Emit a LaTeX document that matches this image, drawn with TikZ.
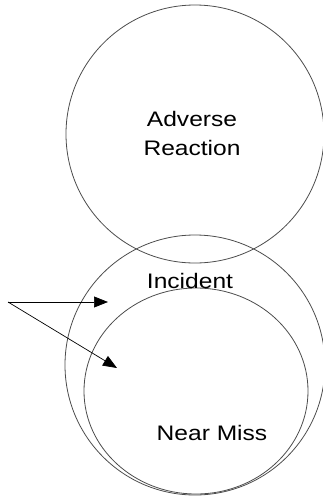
\documentclass[tikz,border=0pt]{standalone}
\usepackage{fontspec}
\setmainfont[FakeStretch=1.17]{Liberation Sans}
\usetikzlibrary{positioning,shapes.geometric,arrows.meta}

\begin{document}
\begin{tikzpicture}[x=1pt, y=-1pt, >={Triangle[length=14pt,width=11pt]},
                    setline/.style={draw=black!70, line width=0.8pt, inner sep=0pt, outer sep=0pt},
                    setlabel/.style={font=\fontsize{21}{29}\selectfont, align=center},
                    pointer/.style={->, black, line width=0.7pt}]
  \useasboundingbox (0,0) rectangle (323,499);
  % the three sets
  \node (adverse)  [setline, circle, minimum size=258pt] at (195,134) {};
  \node (incident) [setline, circle, minimum size=260pt] at (195,365) {};
  \node (nearmiss) [setline, ellipse, minimum width=224pt, minimum height=206pt] at (196,391) {};
  % labels
  \node (adverselbl)  [setlabel] at (192,133) {Adverse\\Reaction};
  \node (incidentlbl) [setlabel] at (190,281) {Incident};
  \node (nearmisslbl) [setlabel] at (212,433) {Near Miss};
  % pointers
  \coordinate (src) at (8,302);
  \coordinate (tipincident) at (108,302);
  \coordinate (tipnearmiss) at (117,368);
  \draw[pointer] (src) -- (tipincident);
  \draw[pointer] (src) -- (tipnearmiss);
\end{tikzpicture}
\end{document}
